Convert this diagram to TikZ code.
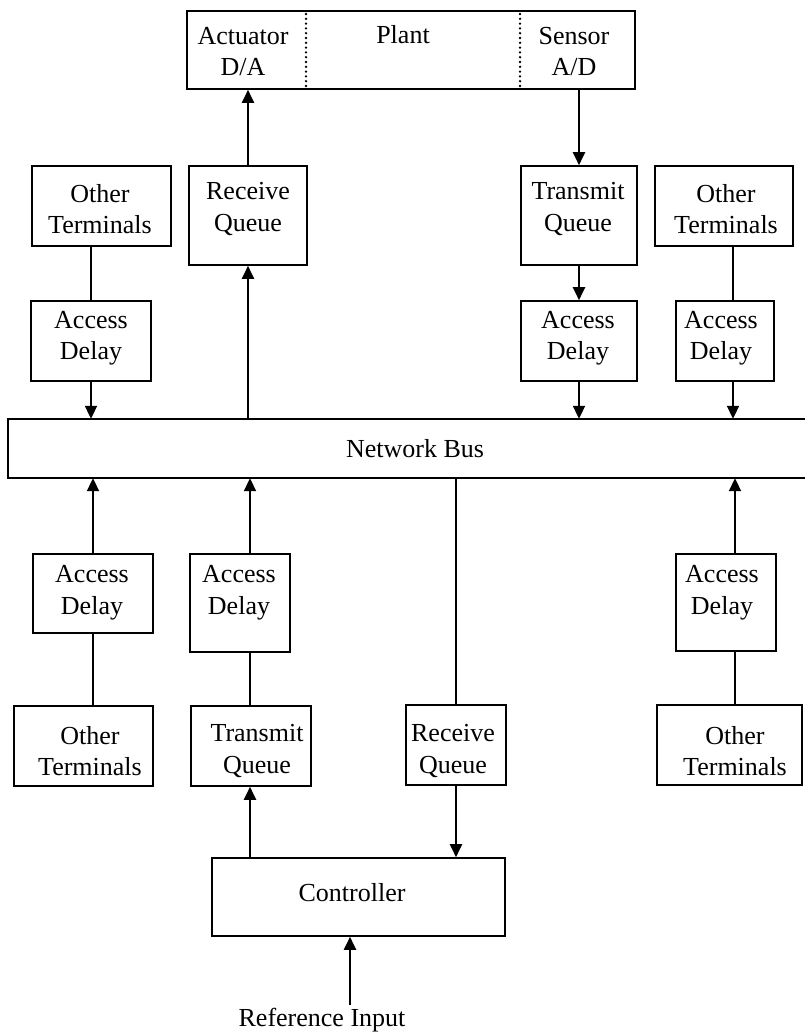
\documentclass[tikz,border=0pt]{standalone}
\usepackage{fontspec}
\setmainfont{Liberation Serif}
\usetikzlibrary{arrows.meta,calc}
\begin{document}
\begin{tikzpicture}[x=1pt,y=-1pt,
  box/.style={draw, line width=1.6pt, inner sep=0pt},
  thickbox/.style={box, line width=2.4pt},
  txt/.style={align=center, inner sep=0pt, font=\fontsize{26}{31.5}\selectfont},
  arr/.style={line width=2pt, -{Triangle[length=13pt,width=12pt]}},
  ln/.style={line width=1.2pt},
  thk/.style={line width=2.8pt},
  dots/.style={line width=2.6pt, line cap=round, dash pattern=on 0pt off 4.8pt}]
\useasboundingbox (0,0) rectangle (805,1036);
% plant
\node[box, minimum width=448pt, minimum height=78pt] (plant) at (411,50) {};
\draw[dots] (306,14) -- (306,87);
\draw[dots] (520,14) -- (520,87);
\node[txt] (act) at (243,51.5) {Actuator\\D/A};
\node[txt] (pl) at (403,35) {Plant};
\node[txt] (sen) at (574,51.5) {Sensor\\A/D};
% top row
\node[thickbox, minimum width=139pt, minimum height=80pt] (otL) at (101.5,206) {};
\node[txt] at (100,209) {Other\\Terminals};
\node[box, minimum width=118pt, minimum height=99pt] (rqT) at (248,215.5) {};
\node[txt] at (248,209) {Receive\\Queue};
\node[box, minimum width=116pt, minimum height=99pt] (tqT) at (579,215.5) {};
\node[txt] at (578,209) {Transmit\\Queue};
\node[thickbox, minimum width=138pt, minimum height=80pt] (otR) at (724,206) {};
\node[txt] at (726,209) {Other\\Terminals};
\node[box, minimum width=120pt, minimum height=80pt] (adL) at (91,341) {};
\node[txt] at (91,338) {Access\\Delay};
\node[box, minimum width=116pt, minimum height=80pt] (adT) at (579,341) {};
\node[txt] at (578,338) {Access\\Delay};
\node[box, minimum width=98pt, minimum height=80pt] (adR) at (725,341) {};
\node[txt] at (721,338) {Access\\Delay};
% bus (right side runs off the picture)
\node[inner sep=0pt, minimum width=797pt, minimum height=59pt] (bus) at (406.5,448.5) {};
\draw[line width=2pt] (bus.north east) -- (bus.north west) -- (bus.south west) -- (bus.south east);
\node[txt] at (415,449) {Network Bus};
% bottom row
\node[box, minimum width=120pt, minimum height=79pt] (adBL) at (93,593.5) {};
\node[txt] at (92,592.5) {Access\\Delay};
\node[box, minimum width=100pt, minimum height=98pt] (adBT) at (240,603) {};
\node[txt] at (239,592.5) {Access\\Delay};
\node[box, minimum width=100pt, minimum height=97pt] (adBR) at (726,602.5) {};
\node[txt] at (722,592.5) {Access\\Delay};
\node[box, minimum width=139pt, minimum height=80pt] (otBL) at (83.5,746) {};
\node[txt] at (90,751) {Other\\Terminals};
\node[box, minimum width=120pt, minimum height=80pt] (tqB) at (251,746) {};
\node[txt] at (257,751) {Transmit\\Queue};
\node[box, minimum width=100pt, minimum height=80pt] (rqB) at (456,745) {};
\node[txt] at (453,751) {Receive\\Queue};
\node[box, minimum width=145pt, minimum height=80pt] (otBR) at (729.5,745) {};
\node[txt] at (735,751) {Other\\Terminals};
\node[box, minimum width=293pt, minimum height=78pt] (ctrl) at (358.5,897) {};
\node[txt] at (352,893) {Controller};
\node[txt] (ref) at (322,1020) {Reference Input};
\coordinate (refin) at (350,1005);
% connectors top
\draw[arr] (rqT.north) -- (rqT.north |- plant.south);
\draw[arr] (tqT.north |- plant.south) -- (tqT.north);
\draw[arr] (tqT.south) -- (adT.north);
\draw[arr] (adT.south) -- (adT.south |- bus.north);
\draw[thk] (adL.north |- otL.south) -- (adL.north);
\draw[arr] (adL.south) -- (adL.south |- bus.north);
\coordinate (xr) at (733,0);
\draw[thk] (xr |- otR.south) -- (xr |- adR.north);
\draw[arr] (xr |- adR.south) -- (xr |- bus.north);
\draw[arr] (rqT.south |- bus.north) -- (rqT.south);
% connectors bottom
\draw[arr] (adBL.north) -- (adBL.north |- bus.south);
\draw[ln] (adBL.south) -- (adBL.south |- otBL.north);
\coordinate (xt) at (250,0);
\draw[arr] (xt |- adBT.north) -- (xt |- bus.south);
\draw[ln] (xt |- adBT.south) -- (xt |- tqB.north);
\draw[arr] (xt |- ctrl.north) -- (xt |- tqB.south);
\draw[ln] (rqB.north |- bus.south) -- (rqB.north);
\draw[arr] (rqB.south) -- (rqB.south |- ctrl.north);
\coordinate (xb) at (735,0);
\draw[arr] (xb |- adBR.north) -- (xb |- bus.south);
\draw[ln] (xb |- adBR.south) -- (xb |- otBR.north);
\draw[arr] (refin) -- (refin |- ctrl.south);
\end{tikzpicture}
\end{document}
